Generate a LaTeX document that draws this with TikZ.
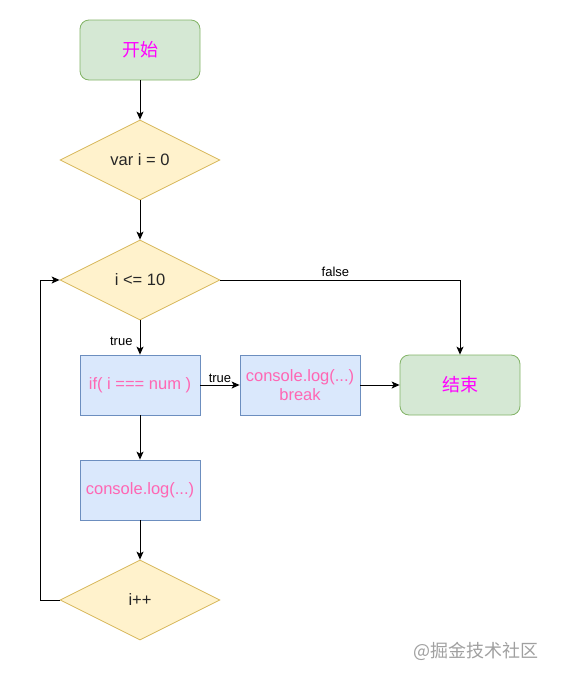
\documentclass[tikz,border=0pt]{standalone}
\usepackage{fontspec}
\setmainfont{Liberation Sans}
\newfontfamily\cjk{Noto Sans CJK SC}
\usetikzlibrary{arrows.meta,shapes.geometric}

\definecolor{termfill}{HTML}{D5E8D4}
\definecolor{termline}{HTML}{82B366}
\definecolor{termtext}{HTML}{FF00FF}
\definecolor{decfill}{HTML}{FFF2CC}
\definecolor{decline}{HTML}{D6B656}
\definecolor{procfill}{HTML}{DAE8FC}
\definecolor{procline}{HTML}{6C8EBF}
\definecolor{codepink}{HTML}{FF66B3}
\definecolor{markgray}{HTML}{A0A0A0}

\tikzset{
  terminal/.style={draw=termline, fill=termfill, rounded corners=9pt, line width=0.8pt,
    minimum width=120pt, minimum height=60pt, inner sep=0pt,
    text=termtext, font=\cjk\fontsize{18}{20}\selectfont},
  decision/.style={diamond, draw=decline, fill=decfill, aspect=2, line width=0.8pt,
    minimum width=160pt, minimum height=80pt, inner sep=0pt,
    font=\fontsize{16.5}{19}\selectfont, text=black!85},
  process/.style={draw=procline, fill=procfill, line width=0.8pt,
    minimum width=120pt, minimum height=60pt, inner sep=0pt, align=center,
    text=codepink, font=\fontsize{16.5}{19}\selectfont},
  flow/.style={line width=1pt, -{Stealth[length=8pt,width=7pt,inset=2pt]}},
  edgelabel/.style={font=\fontsize{13}{15}\selectfont, text=black, inner sep=1pt}
}

\begin{document}
\begin{tikzpicture}[x=1pt,y=-1pt]

% Canvas
\useasboundingbox (0,0) rectangle (561,681);

% Main column
\node[terminal] (start) at (140,50)  {开始};
\node[decision] (init)  at (140,160) {var i = 0};
\node[decision] (cond)  at (140,280) {i <= 10};
\node[process]  (check) at (140,385) {if( i === num )};
\node[process]  (print) at (140,490) {console.log(...)};
\node[decision] (incr)  at (140,600) {i++};

% Right branch
\node[process]  (brk)  at (300,385) {console.log(...)\\break};
\node[terminal] (done) at (460,385) {结束};

% Loop back point
\coordinate (back) at (40,600);

% Connectors
\draw[flow] (start) -- (init);
\draw[flow] (init) -- (cond);
\draw[flow] (cond) -- node[edgelabel, left=6pt, pos=0.6] {true} (check);
\draw[flow] (cond.east) -| node[edgelabel, above=2pt, pos=0.24] {false} (done.north);
\draw[flow] (check) -- node[edgelabel, above=1pt] {true} (brk);
\draw[flow] (brk) -- (done);
\draw[flow] (check) -- (print);
\draw[flow] (print) -- (incr);
\draw[flow] (incr.west) -- (back) |- (cond.west);

% Watermark
\node[text=markgray, font=\cjk\fontsize{18}{20}\selectfont, anchor=east] (mark) at (542,651) {@掘金技术社区};

\end{tikzpicture}
\end{document}
